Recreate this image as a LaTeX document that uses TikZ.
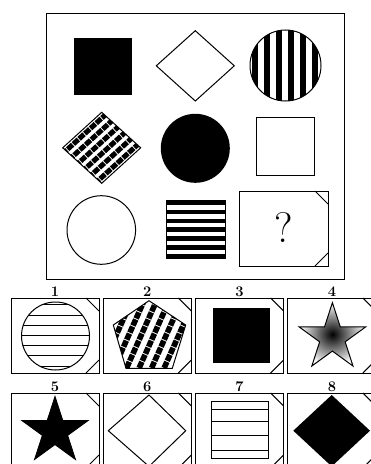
\documentclass[tikz,border=0pt]{standalone}
\begin{document}
\begin{tikzpicture}[x=0.75pt,y=-0.75pt,line width=0.75pt,
    dashstripe/.style={line width=3.8pt,dash pattern=on 5pt off 0.8pt},
    lab/.style={font=\bfseries\fontsize{11}{12}\selectfont,inner sep=0pt}]
        \useasboundingbox (0,0) rectangle (371,464);
        \clip (0,0) rectangle (371,464);
        % matrix frame
            \draw (46,13) rectangle (344,279);
        % row 1
            \fill (74.3,37.7) rectangle (132.3,95.3);
            \draw (156.3,65.8) -- (195.3,30.7) -- (234.3,65.8) -- (195.3,101) -- cycle;
            \begin{scope}
                \clip (285.5,65.5) circle (35.5);
                \foreach \k in {0,...,5}{
                    \fill ({285.5-33.5+11.9*\k},25) rectangle ++(6,85);
                }
            \end{scope}
            \draw (285.5,65.5) circle (35.5);
        % row 2
            \begin{scope}
                \clip (62.7,147.8) -- (101.7,112.3) -- (140.7,147.8) -- (101.7,183.3) -- cycle;
                \foreach \k in {1,...,6}{
                    \draw[dashstripe] ({62.7+39*(\k-0.5)/6-4},{147.8+35.5*(\k-0.5)/6+3.64}) -- ++(47,-42.8);
                }
            \end{scope}
            \draw (62.7,147.8) -- (101.7,112.3) -- (140.7,147.8) -- (101.7,183.3) -- cycle;
            \fill (195.3,148.3) circle (34.5);
            \draw (256,117.7) rectangle (314,175.3);
        % row 3
            \draw (101.3,230) circle (34.3);
            \foreach \k in {0,...,6}{
                \fill (166.7,{200.7+8.9*\k}) rectangle (225,{205.3+8.9*\k});
            }
            \draw (166.7,200.7) rectangle (225,258.7);
            \draw (239,191) rectangle (328,266);
            \draw (315,191) -- (328,204);
            \draw (315,266) -- (328,253);
            \node (q) at (284,228) {\fontsize{32}{36}\selectfont ?};
        % answer panels
            \foreach \i in {0,...,3}{
                \foreach \r/\yt in {0/298,1/393}{
                    \pgfmathsetmacro{\xl}{11+92.3*\i}
                    \pgfmathtruncatemacro{\n}{\i+1+4*\r}
                    \draw (\xl,\yt) rectangle ++(88,75);
                    \draw ({\xl+75},\yt) -- ++(13,13);
                    \draw ({\xl+75},{\yt+75}) -- ++(13,-13);
                    \node[lab] (lab\n) at ({\xl+44},{\yt-6}) {\n};
                }
            }
        % 1
            \begin{scope}
                \clip (55.5,336) circle (34);
                \foreach \k in {-3,...,3}{
                    \draw (20,{335.5+10.2*\k}) -- (91,{335.5+10.2*\k});
                }
            \end{scope}
            \draw (55.5,336) circle (34);
        % 2
            \begin{scope}
                \clip (149,300.7) -- (185.7,325) -- (172.3,368.3) -- (126,368.3) -- (113.3,325) -- cycle;
                \foreach \k in {0,...,7}{
                    \draw[dashstripe,line width=4.2pt] ({86+12.5*\k},375) -- ++(-66:90);
                }
            \end{scope}
            \draw (149,300.7) -- (185.7,325) -- (172.3,368.3) -- (126,368.3) -- (113.3,325) -- cycle;
        % 3
            \fill (213.3,307.7) rectangle (270,363.3);
        % 4
            \begin{scope}[shift={(332.4,337.7)}]
                \shadedraw[inner color=black,outer color=white] (-90:35)
                    \foreach \a in {-90,-18,54,126,198}{ -- ({\a+36}:13.4) -- ({\a+72}:35) } -- cycle;
            \end{scope}
        % 5
            \begin{scope}[shift={(55,431.3)}]
                \filldraw (-90:34.6)
                    \foreach \a in {-90,-18,54,126,198}{ -- ({\a+36}:13.2) -- ({\a+72}:34.6) } -- cycle;
            \end{scope}
        % 6
            \draw (108.3,430.7) -- (149,395) -- (185.7,430.7) -- (149,466.4) -- cycle;
        % 7
            \draw (211.7,401.7) rectangle (268.3,458.3);
            \foreach \y in {409,421.7,435.7,450}{
                \draw (211.7,\y) -- (268.3,\y);
            }
        % 8
            \fill (293.3,430.7) -- (331.7,395) -- (370,430.7) -- (331.7,466.4) -- cycle;
\end{tikzpicture}
\end{document}
